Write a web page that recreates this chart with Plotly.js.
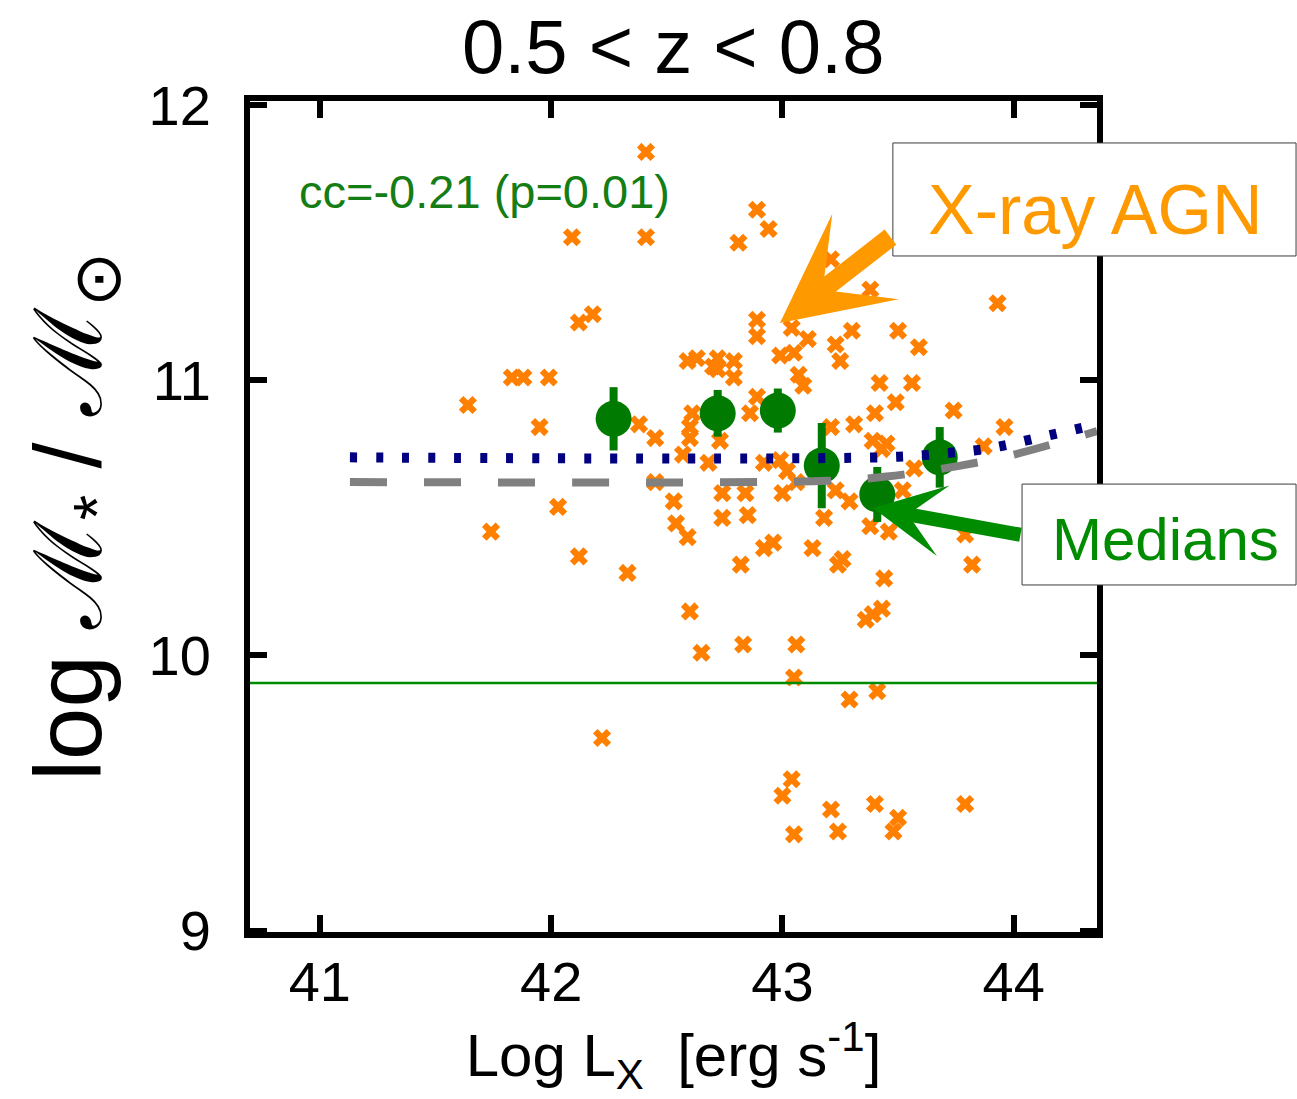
<!DOCTYPE html>
<html><head><meta charset="utf-8">
<script src="https://cdn.plot.ly/plotly-3.0.1.min.js"></script>
<style>html,body{margin:0;padding:0;background:#fff}</style>
</head><body>
<div id="chart" style="width:1297px;height:1099px"></div>
<script>
// X-ray AGN: log L_X and log stellar mass
const agnLx = [42.41,42.09,42.41,42.89,42.94,42.81,43.21,43.38,43.93,42.12,42.18,41.83,41.88,41.99,41.64,41.95,42.03,41.74,42.12,42.33,
  42.38,42.45,42.22,42.89,42.89,43.04,43.11,43.30,43.50,43.59,43.23,43.25,42.59,42.63,42.70,42.72,42.79,42.72,42.79,42.99,
  43.05,43.07,43.09,43.42,43.56,42.89,42.86,42.61,42.60,42.60,42.73,42.57,42.68,42.92,42.99,43.02,43.06,43.00,42.45,42.53,
  42.54,42.59,42.74,42.74,42.84,42.85,42.82,42.92,42.96,43.13,43.24,43.26,43.18,43.23,43.29,43.38,43.46,43.52,43.79,43.82,
  43.44,43.43,43.39,43.36,42.60,42.65,42.83,43.06,43.05,43.29,43.41,43.04,43.00,43.05,43.21,43.24,43.40,43.50,43.48,43.79,
  43.49,43.40,43.74,43.31,43.21,43.96,43.39,43.45,43.43,43.87,43.57];
const agnMass = [11.83,11.52,11.52,11.62,11.55,11.50,11.44,11.33,11.28,11.21,11.24,11.01,11.01,11.01,10.91,10.83,10.54,10.45,10.36,10.30,
  10.84,10.79,9.70,11.22,11.16,11.19,11.15,11.18,11.18,11.12,11.13,11.07,11.07,11.08,11.05,11.08,11.07,11.04,11.01,11.09,
  11.10,11.02,10.98,10.99,10.99,10.94,10.88,10.88,10.83,10.79,10.78,10.73,10.70,10.70,10.71,10.67,10.63,10.59,10.63,10.56,
  10.48,10.43,10.59,10.50,10.59,10.51,10.33,10.39,10.41,10.39,10.33,10.35,10.50,10.60,10.56,10.47,10.45,10.60,10.44,10.33,
  10.28,10.17,10.15,10.13,10.16,10.01,10.04,10.04,9.92,9.84,9.87,9.55,9.49,9.35,9.44,9.36,9.46,9.41,9.36,9.46,
  10.92,10.88,10.89,10.84,10.83,10.83,10.78,10.77,10.75,10.76,10.68];

// Medians with errors
const medLx = [42.27,42.72,42.98,43.17,43.41,43.68];
const medMass = [10.86,10.88,10.89,10.69,10.585,10.72];
const medErr = [0.115,0.085,0.08,0.155,0.10,0.11];

// Dotted (navy) and dashed (gray) relations
const dotLx = [41.13,43.5,43.7,43.83,43.94,44.1,44.36];
const dotMass = [10.72,10.722,10.735,10.745,10.76,10.79,10.84];
const dashLx = [41.13,42.9,43.2,43.45,43.77,44.0,44.36];
const dashMass = [10.63,10.63,10.635,10.65,10.69,10.73,10.815];

// Mass completeness limit
const limitLx = [40.698,44.36];
const limitMass = [9.9,9.9];

const xTickVals = [41,42,43,44];
const yTickVals = [9,10,11,12];

const FONT = 'Liberation Sans, Arial, Helvetica, sans-serif';

const traces = [
  {x: agnLx, y: agnMass, mode: 'markers', type: 'scatter',
   marker: {symbol: 'x', size: 16, color: 'rgb(255,127,0)', line: {width: 0}}},
  {x: limitLx, y: limitMass, mode: 'lines', type: 'scatter',
   line: {color: 'rgb(0,140,0)', width: 2.5}},
  {x: medLx, y: medMass, mode: 'markers', type: 'scatter',
   marker: {symbol: 'circle', size: 36, color: 'rgb(0,122,0)'},
   error_y: {type: 'data', array: medErr, visible: true, thickness: 8, width: 0, color: 'rgb(0,122,0)'}},
  {x: dashLx, y: dashMass, mode: 'lines', type: 'scatter',
   line: {color: 'rgb(128,128,128)', width: 8, dash: '37px,37px', shape: 'spline'}},
  {x: dotLx, y: dotMass, mode: 'lines', type: 'scatter',
   line: {color: 'rgb(0,0,128)', width: 10, dash: '7px,19px', shape: 'spline'}}
];

const axisCommon = {
  showgrid: false, zeroline: false, showline: true, linecolor: 'black', linewidth: 6,
  mirror: 'ticks', ticks: 'inside', ticklen: 17, tickwidth: 6, tickcolor: 'black',
  tickfont: {family: FONT, size: 56, color: 'black'}
};

const layout = {
  width: 1297, height: 1099,
  margin: {l: 250, r: 200, t: 101, b: 167, pad: 0},
  paper_bgcolor: 'white', plot_bgcolor: 'white',
  showlegend: false,
  font: {family: FONT, color: 'black'},
  title: {text: '0.5 &lt; z &lt; 0.8', font: {family: FONT, size: 76, color: 'black'},
          x: 0.519, xanchor: 'center', xref: 'container', y: 0.958, yanchor: 'middle', yref: 'container'},
  xaxis: Object.assign({}, axisCommon, {
    range: [40.698, 44.36], tickmode: 'array', tickvals: xTickVals, ticktext: xTickVals.map(String),
    ticklabelstandoff: -4,
    title: {text: 'Log L<sub>X</sub>  [erg s<sup>-1</sup>]', font: {family: FONT, size: 60, color: 'black'}, standoff: 22}
  }),
  yaxis: Object.assign({}, axisCommon, {
    range: [8.995, 12.015], tickmode: 'array', tickvals: yTickVals, ticktext: yTickVals.map(String),
    ticklabelstandoff: 22,
    title: {text: 'log ℳ<sub>*</sub> / ℳ<sub>⊙</sub>', font: {family: FONT, size: 94, color: 'black'}, standoff: 18}
  }),
  shapes: [
    {type: 'rect', xref: 'paper', yref: 'paper', x0: 0.759, x1: 1.235, y0: 0.8135, y1: 0.9495,
     fillcolor: 'white', line: {color: 'rgb(60,60,60)', width: 1}, layer: 'above'},
    {type: 'rect', xref: 'paper', yref: 'paper', x0: 0.9115, x1: 1.235, y0: 0.4176, y1: 0.539,
     fillcolor: 'white', line: {color: 'rgb(60,60,60)', width: 1}, layer: 'above'}
  ],
  annotations: [
    {text: 'cc=-0.21 (p=0.01)', xref: 'paper', yref: 'paper', x: 0.0555, y: 0.8905,
     xanchor: 'left', yanchor: 'middle', showarrow: false,
     font: {family: FONT, size: 47, color: 'rgb(20,125,20)'}},
    {text: 'X-ray AGN', xref: 'paper', yref: 'paper', x: 0.9988, y: 0.8688,
     xanchor: 'center', yanchor: 'middle', showarrow: false,
     font: {family: FONT, size: 70, color: 'rgb(255,153,0)'}},
    {text: 'Medians', xref: 'paper', yref: 'paper', x: 1.0803, y: 0.472,
     xanchor: 'center', yanchor: 'middle', showarrow: false,
     font: {family: FONT, size: 60, color: 'rgb(0,140,0)'}},
    {text: '', xref: 'paper', yref: 'paper', x: 0.6257, y: 0.7329,
     showarrow: true, ax: 112, ay: -87, arrowhead: 3, arrowsize: 0.95, arrowwidth: 19,
     arrowcolor: 'rgb(255,153,0)', standoff: 0},
    {text: '', xref: 'paper', yref: 'paper', x: 0.7355, y: 0.5102,
     showarrow: true, ax: 149, ay: 27, arrowhead: 3, arrowsize: 0.85, arrowwidth: 14,
     arrowcolor: 'rgb(0,140,0)', standoff: 0}
  ]
};

Plotly.newPlot('chart', traces, layout, {displayModeBar: false, staticPlot: true});
</script>
</body></html>
